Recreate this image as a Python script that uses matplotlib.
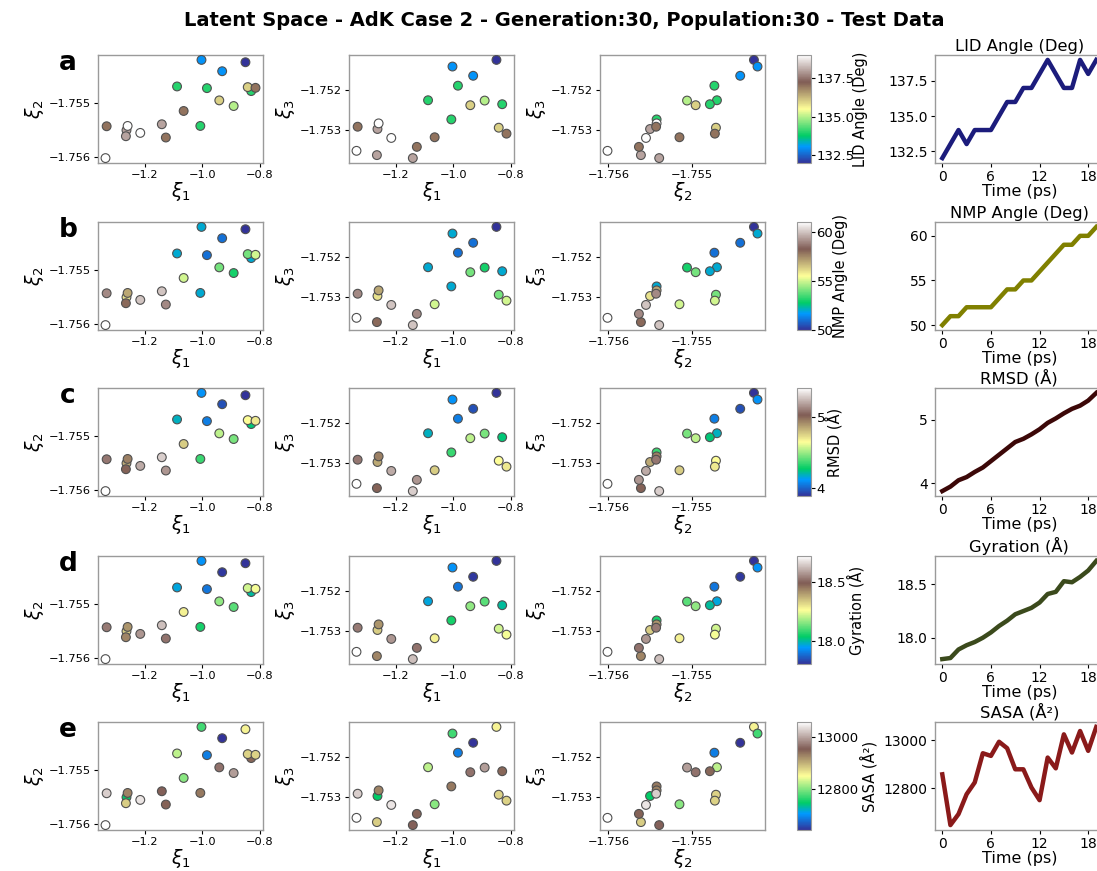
import matplotlib
matplotlib.use("Agg")
import matplotlib.pyplot as plt

# ---------------- data ----------------
time_ps = list(range(20))

xi1 = [-0.850, -0.931, -0.984, -1.003, -1.088, -0.830, -1.007, -0.891, -0.941, -0.842,
       -0.815, -1.065, -1.264, -1.260, -1.266, -1.333, -1.127, -1.216, -1.141, -1.337]
xi2 = [-1.754250, -1.754415, -1.754726, -1.754207, -1.754695, -1.754780, -1.755421, -1.755055,
       -1.754951, -1.754707, -1.754720, -1.755146, -1.755500, -1.755421, -1.755610, -1.755427,
       -1.755634, -1.755549, -1.755390, -1.756012]
xi3 = [-1.751233, -1.751633, -1.751883, -1.751400, -1.752250, -1.752350, -1.752733, -1.752258,
       -1.752375, -1.752942, -1.753092, -1.753183, -1.752975, -1.752833, -1.753633, -1.752917,
       -1.753425, -1.753200, -1.753708, -1.753525]

lid_angle = [132, 133, 134, 133, 134, 134, 134, 135, 136, 136, 137, 137, 138, 139, 138, 137, 137, 139, 138, 139]
nmp_angle = [50, 51, 51, 52, 52, 52, 52, 53, 54, 54, 55, 55, 56, 57, 58, 59, 59, 60, 60, 61]
rmsd = [3.88, 3.95, 4.05, 4.10, 4.18, 4.25, 4.35, 4.45, 4.55, 4.65, 4.70, 4.77, 4.85, 4.95, 5.02,
        5.10, 5.17, 5.22, 5.30, 5.42]
gyration = [17.80, 17.81, 17.89, 17.93, 17.96, 18.00, 18.05, 18.11, 18.16, 18.22, 18.25, 18.28,
            18.33, 18.41, 18.43, 18.53, 18.52, 18.57, 18.63, 18.72]
sasa = [12858, 12646, 12692, 12775, 12824, 12946, 12935, 12994, 12967, 12879, 12879, 12803, 12750,
        12928, 12883, 13025, 12949, 13039, 12956, 13056]

prop_names = ["LID Angle (Deg)", "NMP Angle (Deg)", "RMSD (Å)", "Gyration (Å)", "SASA (Å²)"]
panel_letters = ["a", "b", "c", "d", "e"]
prop_ticks = [[132.5, 135.0, 137.5], [50, 55, 60], [4, 5], [18.0, 18.5], [12800, 13000]]
time_ticks = [0, 6, 12, 18]
xi1_ticks = [-1.2, -1.0, -0.8]
xi2_ticks = [-1.756, -1.755]
xi3_ticks = [-1.753, -1.752]

title = "Latent Space - AdK Case 2 - Generation:30, Population:30 - Test Data"

# ---------------- layout / style ----------------
W, H = 1097, 871
fig = plt.figure(figsize=(W / 100, H / 100), dpi=100)

def px_axes(x0, y0, x1, y1):
    return fig.add_axes([x0 / W, 1 - y1 / H, (x1 - x0) / W, (y1 - y0) / H])

row_tops = [55, 222, 388, 556, 722]
row_h = 108
scatter_cols = [(98, 263), (349, 514), (600, 765)]
cbar_col = (797, 811)
line_col = (934.6, 1104)
line_colors = ["#1c1c7c", "#808000", "#3c0808", "#3b4a1c", "#8a1a1a"]
cbar_label_x = [4.0, 2.55, 2.0, 3.6, 4.5]
spine_col = "#9a9a9a"

props = [lid_angle, nmp_angle, rmsd, gyration, sasa]
pairs = [(xi1, xi2, xi1_ticks, xi2_ticks, r"$\xi_1$", r"$\xi_2$"),
         (xi1, xi3, xi1_ticks, xi3_ticks, r"$\xi_1$", r"$\xi_3$"),
         (xi2, xi3, xi2_ticks, xi3_ticks, r"$\xi_2$", r"$\xi_3$")]

def style_spines(ax):
    for s in ax.spines.values():
        s.set_color(spine_col)
        s.set_linewidth(1.0)

for r, (vals, name) in enumerate(zip(props, prop_names)):
    top = row_tops[r]
    bot = top + row_h
    vmin, vmax = min(vals), max(vals)
    sc = None
    for c, (xs, ys, xt, yt, xl, yl) in enumerate(pairs):
        x0, x1 = scatter_cols[c]
        ax = px_axes(x0, top, x1, bot)
        sc = ax.scatter(xs, ys, c=vals, cmap="terrain", vmin=vmin, vmax=vmax,
                        s=40, edgecolors="#505050", linewidths=0.8, zorder=3)
        ax.set_xticks(xt)
        ax.set_yticks(yt)
        ax.ticklabel_format(useOffset=False)
        ax.tick_params(labelsize=8.2, length=3, width=0.8, pad=2)
        ax.set_xlabel(xl, fontsize=13.5, labelpad=0)
        ax.set_ylabel(yl, fontsize=13.5, labelpad=2)
        style_spines(ax)
    # colorbar
    cax = px_axes(cbar_col[0], top, cbar_col[1], bot)
    cb = fig.colorbar(sc, cax=cax)
    cb.set_ticks(prop_ticks[r])
    cb.ax.tick_params(labelsize=9.5, length=3, width=0.8, pad=1)
    cb.outline.set_edgecolor(spine_col)
    cb.set_label(name, fontsize=10.5)
    cb.ax.yaxis.set_label_coords(cbar_label_x[r], 0.5)
    # line plot
    lax = px_axes(line_col[0], top, line_col[1], bot)
    lax.plot(time_ps, vals, color=line_colors[r], lw=3.2)
    lax.set_xticks(time_ticks)
    lax.set_yticks(prop_ticks[r])
    lax.tick_params(labelsize=10, length=3, width=0.8, pad=2)
    lax.set_title(name, fontsize=11.8, pad=3)
    lax.set_xlabel("Time (ps)", fontsize=11.5, labelpad=0)
    style_spines(lax)
    # panel letter
    fig.text(68 / W, 1 - (top + 8) / H, panel_letters[r], fontsize=19,
             fontweight="bold", ha="center", va="center")

fig.text(564 / W, 1 - 20 / H, title, fontsize=14, fontweight="bold",
         ha="center", va="center")

fig.savefig("out.png", dpi=100)
